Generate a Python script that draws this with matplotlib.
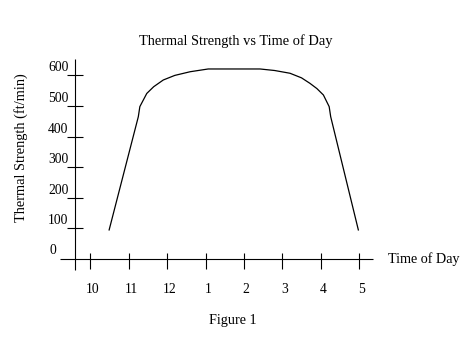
import numpy as np
import matplotlib
matplotlib.use("Agg")
import matplotlib.pyplot as plt

# time of day in hours (24h) and thermal strength (ft/min)
hours = [10.49, 11.25, 11.29, 11.47, 11.65, 11.9, 12.2, 12.6, 13.07,
         14.42, 14.8, 15.2, 15.5, 15.72, 15.9, 16.07, 16.22, 16.26, 16.98]
strength = [95, 465, 498, 541, 563, 585, 600, 612, 621,
            621, 616, 607, 592, 574, 557, 536, 498, 465, 95]

xticks = [10, 11, 12, 13, 14, 15, 16, 17]
xticklabels = ["10", "11", "12", "1", "2", "3", "4", "5"]
yticks = [100, 200, 300, 400, 500, 600]
yticklabels = ["100", "200", "300", "400", "500", "600"]

plt.rcParams["font.family"] = ["Liberation Serif", "DejaVu Serif"]

fig = plt.figure(figsize=(4.77, 3.48), dpi=100)
ax = fig.add_axes([0, 0, 1, 1])
ax.set_xlim(7.648, 20.07)
ax.set_ylim(-290.8, 846.4)
ax.axis("off")

k = dict(color="black", lw=0.8, solid_capstyle="butt")
# hand drawn axes
ax.plot([9.6, 9.6], [-36, 654], **k)
ax.plot([9.2, 17.35], [0, 0], **k)
for x, lab in zip(xticks, xticklabels):
    ax.plot([x, x], [20.6, -32.7], **k)
    ax.text(x + 0.06, -98, lab, ha="center", va="center", fontsize=9.8)
for y, lab in zip(yticks, yticklabels):
    ax.plot([9.39, 9.81], [y, y], **k)
    ax.text(8.898, y + 3, lab, ha="left", va="bottom", fontsize=9.8)
ax.text(8.93, 29, "0", ha="left", va="center", fontsize=9.8)

ax.plot(hours, strength, color="black", lw=0.9)

ax.text(0.494, 0.883, "Thermal Strength vs Time of Day", transform=ax.transAxes,
        ha="center", va="center", fontsize=10.4)
ax.text(0.045, 0.575, "Thermal Strength (ft/min)", transform=ax.transAxes,
        ha="center", va="center", rotation=90, fontsize=10.4)
ax.text(0.813, 0.256, "Time of Day", transform=ax.transAxes,
        ha="left", va="center", fontsize=10.2)
ax.text(0.488, 0.078, "Figure 1", transform=ax.transAxes,
        ha="center", va="center", fontsize=10.2)

fig.savefig("out.png", dpi=100)
